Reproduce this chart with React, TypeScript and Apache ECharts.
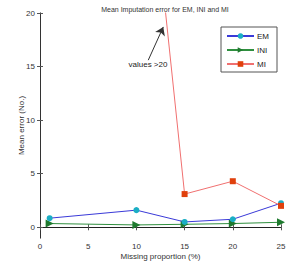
import React, { useEffect, useRef } from "react";
import * as echarts from "echarts";

// Missing proportion (%) on the x axis
const proportions = [1, 10, 15, 20, 25];
// Mean imputation error per method
const emValues = [0.85, 1.6, 0.5, 0.75, 2.25];
const iniValues = [0.35, 0.22, 0.28, 0.35, 0.47];
const miProportions = [10, 15, 20, 25];
const miValues = [46, 3.1, 4.3, 2.0];
const yTicks = [0, 5, 10, 15, 20];
const xTicks = [0, 5, 10, 15, 20, 25];

const FONT = "Liberation Sans, Arial, sans-serif";

export default function App() {
  const ref = useRef<HTMLDivElement>(null);

  useEffect(() => {
    if (!ref.current) return;
    const chart = echarts.init(ref.current, undefined, { renderer: "svg" });
    const axisText = { color: "#333", fontSize: 8, fontFamily: FONT };
    const pair = (xs: number[], ys: number[]) => xs.map((x, i) => [x, ys[i]]);

    chart.setOption({
      animation: false,
      backgroundColor: "#fff",
      title: {
        text: "Mean Imputation error for EM, INI and MI",
        left: 160,
        textAlign: "center",
        top: 1,
        textStyle: { fontSize: 7, fontWeight: "normal", color: "#333", fontFamily: FONT },
      },
      legend: {
        orient: "vertical",
        left: 221,
        top: 27,
        itemWidth: 27,
        itemHeight: 7,
        itemGap: 6,
        padding: [5, 8, 4, 5],
        backgroundColor: "#fff",
        borderColor: "#555",
        borderWidth: 1,
        borderRadius: 0,
        textStyle: { fontSize: 8, color: "#222", fontFamily: FONT, padding: [0, 0, 0, -2] },
        data: ["EM", "INI", "MI"],
      },
      grid: { left: 40, right: 18, top: 13, bottom: 28, containLabel: false },
      xAxis: [
        {
          type: "value",
          min: 0,
          max: 25,
          interval: 5,
          position: "bottom",
          name: "Missing proportion (%)",
          nameLocation: "middle",
          nameGap: 14,
          nameMoveOverlap: false,
          nameTextStyle: { fontSize: 8, color: "#333", fontFamily: FONT },
          axisLine: { lineStyle: { color: "#777" } },
          axisTick: { inside: true, length: 3, lineStyle: { color: "#555" } },
          axisLabel: { ...axisText, margin: 4, customValues: xTicks },
          splitLine: { show: false },
        },
        {
          type: "value",
          min: 0,
          max: 25,
          interval: 5,
          position: "top",
          axisLine: { lineStyle: { color: "#222" } },
          axisTick: { inside: true, length: 3, lineStyle: { color: "#555" } },
          axisLabel: { show: false },
          splitLine: { show: false },
        },
      ],
      yAxis: [
        {
          type: "value",
          min: -1,
          max: 20,
          position: "left",
          name: "Mean error (No.)",
          nameLocation: "middle",
          nameGap: 15,
          nameMoveOverlap: false,
          nameTextStyle: { fontSize: 8, color: "#333", fontFamily: FONT },
          axisLine: { show: true, lineStyle: { color: "#888" } },
          axisTick: { show: true, inside: true, length: 3, customValues: yTicks, lineStyle: { color: "#555" } },
          axisLabel: { ...axisText, margin: 5, customValues: yTicks },
          splitLine: { show: false },
        },
        {
          type: "value",
          min: -1,
          max: 20,
          position: "right",
          axisLine: { show: true, lineStyle: { color: "#333" } },
          axisTick: { show: true, inside: true, length: 3, customValues: yTicks, lineStyle: { color: "#555" } },
          axisLabel: { show: false },
          splitLine: { show: false },
        },
      ],
      series: [
        {
          name: "EM",
          type: "line",
          data: pair(proportions, emValues),
          symbol: "circle",
          symbolSize: 6,
          lineStyle: { color: "#3a3ad8", width: 1 },
          itemStyle: { color: "#1aaec4" },
          z: 3,
        },
        {
          name: "INI",
          type: "line",
          data: pair(proportions, iniValues),
          symbol: "triangle",
          symbolRotate: -90,
          symbolSize: 8,
          lineStyle: { color: "#2f8f3f", width: 1 },
          itemStyle: { color: "#1f7a2f" },
          z: 2,
        },
        {
          name: "MI",
          type: "line",
          data: pair(miProportions, miValues),
          symbol: "rect",
          symbolSize: 6,
          clip: true,
          lineStyle: { color: "#f07070", width: 1 },
          itemStyle: { color: "#e0400c" },
          z: 4,
          markLine: {
            silent: true,
            symbol: ["none", "arrow"],
            symbolSize: 8,
            lineStyle: { color: "#333", width: 1, type: "solid" },
            label: { show: false },
            data: [[{ coord: [11.23, 15.6] }, { coord: [12.79, 18.7] }]],
          },
          markPoint: {
            silent: true,
            symbol: "circle",
            symbolSize: 0,
            label: {
              show: true,
              position: "inside",
              formatter: "values >20",
              fontSize: 8,
              color: "#222",
              fontFamily: FONT,
            },
            data: [{ coord: [11.2, 15.2] }],
          },
        },
      ],
    });
    return () => chart.dispose();
  }, []);

  return (
    <div
      ref={ref}
      style={{ position: "fixed", left: 0, top: 0, width: 299, height: 266 }}
    />
  );
}
